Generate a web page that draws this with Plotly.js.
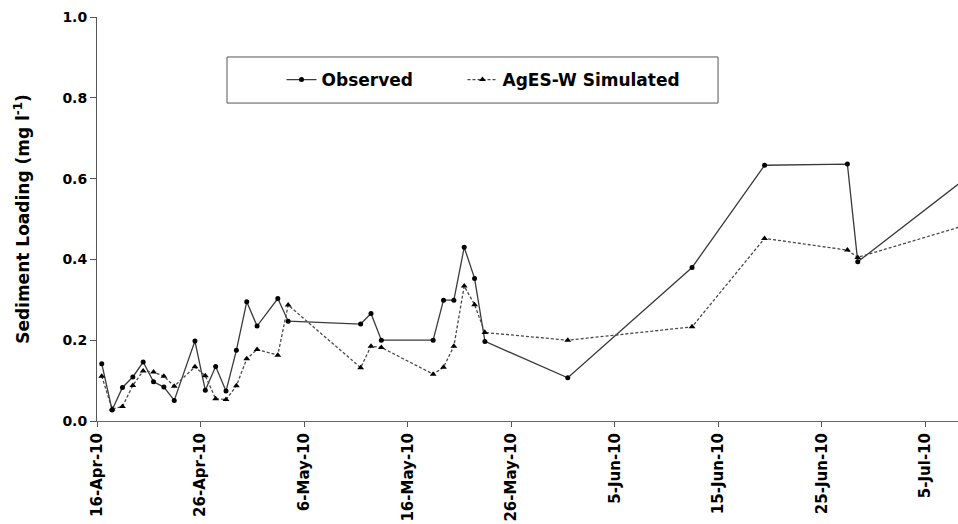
<!DOCTYPE html>
<html><head><meta charset="utf-8">
<script src="https://cdn.plot.ly/plotly-3.0.1.min.js"></script>
<style>html,body{margin:0;padding:0;background:#fff}#chart{width:958px;height:524px}</style>
</head><body><div id="chart"></div><script>
// Sampling dates
const dates = [
  '2010-04-16 11:00','2010-04-17 11:00','2010-04-18 11:00','2010-04-19 11:00','2010-04-20 11:00',
  '2010-04-21 11:00','2010-04-22 11:00','2010-04-23 11:00','2010-04-25 11:00','2010-04-26 11:00',
  '2010-04-27 11:00','2010-04-28 11:00','2010-04-29 11:00','2010-04-30 11:00','2010-05-01 11:00',
  '2010-05-03 11:00','2010-05-04 11:00','2010-05-11 11:00','2010-05-12 11:00','2010-05-13 11:00',
  '2010-05-18 11:00','2010-05-19 11:00','2010-05-20 11:00','2010-05-21 11:00','2010-05-22 11:00',
  '2010-05-23 11:00','2010-05-31 11:00','2010-06-12 11:00','2010-06-19 11:00','2010-06-27 11:00',
  '2010-06-28 11:00','2010-07-09 11:00'
];
const observed = [
  0.142,0.027,0.083,0.109,0.146,0.097,0.084,0.051,0.198,0.076,
  0.135,0.074,0.175,0.295,0.235,0.303,0.247,0.240,0.266,0.200,
  0.200,0.299,0.299,0.430,0.353,0.197,0.107,0.380,0.633,0.636,
  0.394,0.612
];
const simulated = [
  0.111,0.030,0.036,0.088,0.124,0.121,0.111,0.086,0.134,0.112,
  0.055,0.053,0.087,0.154,0.177,0.163,0.287,0.132,0.185,0.182,
  0.116,0.133,0.185,0.334,0.288,0.219,0.200,0.233,0.452,0.423,
  0.405,0.489
];
const tickDates = ['2010-04-16','2010-04-26','2010-05-06','2010-05-16','2010-05-26','2010-06-05','2010-06-15','2010-06-25','2010-07-05'];
const tickLabels = ['16-Apr-10','26-Apr-10','6-May-10','16-May-10','26-May-10','5-Jun-10','15-Jun-10','25-Jun-10','5-Jul-10'];
const yTicks = [0,0.2,0.4,0.6,0.8,1.0];

const FONT = 'DejaVu Sans, Arial, sans-serif';
const legendFont = {family: FONT, size: 17, weight: 'bold', color: '#000'};

const traces = [
  {x: dates, y: observed, name: 'Observed', type: 'scatter', mode: 'lines+markers', legend: 'legend',
   line: {color: '#3a3a3a', width: 1.3},
   marker: {symbol: 'circle', size: 5, color: '#000'}},
  {x: dates, y: simulated, name: 'AgES-W Simulated', type: 'scatter', mode: 'lines+markers', legend: 'legend2',
   line: {color: '#4a4a4a', width: 1.3, dash: '3px,2px'},
   marker: {symbol: 'triangle-up', size: 6, color: '#000'}}
];

const layout = {
  width: 958, height: 524,
  margin: {l: 97, r: 0, t: 17, b: 103, pad: 0},
  paper_bgcolor: '#fff', plot_bgcolor: '#fff',
  showlegend: true,
  legend: {orientation: 'h', x: 0.2143, xanchor: 'left', y: 0.844, yanchor: 'middle',
    bgcolor: 'rgba(0,0,0,0)', borderwidth: 0, font: legendFont},
  legend2: {orientation: 'h', x: 0.4245, xanchor: 'left', y: 0.844, yanchor: 'middle',
    bgcolor: 'rgba(0,0,0,0)', borderwidth: 0, font: legendFont},
  xaxis: {type: 'date', range: ['2010-04-16', '2010-07-08 03:20'],
    tickvals: tickDates, ticktext: tickLabels, tickangle: -90,
    ticks: 'outside', ticklen: 5, tickcolor: '#555', tickwidth: 1,
    showline: true, linecolor: '#666', linewidth: 1, showgrid: false, zeroline: false,
    tickfont: {family: FONT, size: 15, weight: 'bold', color: '#000'}},
  yaxis: {range: [0, 1], tickvals: yTicks, tickformat: '.1f',
    ticks: 'outside', ticklen: 6, tickcolor: '#555', tickwidth: 1,
    showline: true, linecolor: '#555', linewidth: 1, showgrid: false, zeroline: false,
    tickfont: {family: FONT, size: 14, weight: 'bold', color: '#000'},
    title: {text: 'Sediment Loading (mg l<sup>-1</sup>)', standoff: 28,
      font: {family: FONT, size: 17, weight: 'bold', color: '#000'}}},
  shapes: [{type: 'rect', xref: 'paper', yref: 'paper', x0: 0.151, x1: 0.7213, y0: 0.787, y1: 0.901,
    line: {color: '#555', width: 1}, fillcolor: 'rgba(0,0,0,0)'}]
};

Plotly.newPlot('chart', traces, layout, {displayModeBar: false, staticPlot: true});
</script></body></html>
